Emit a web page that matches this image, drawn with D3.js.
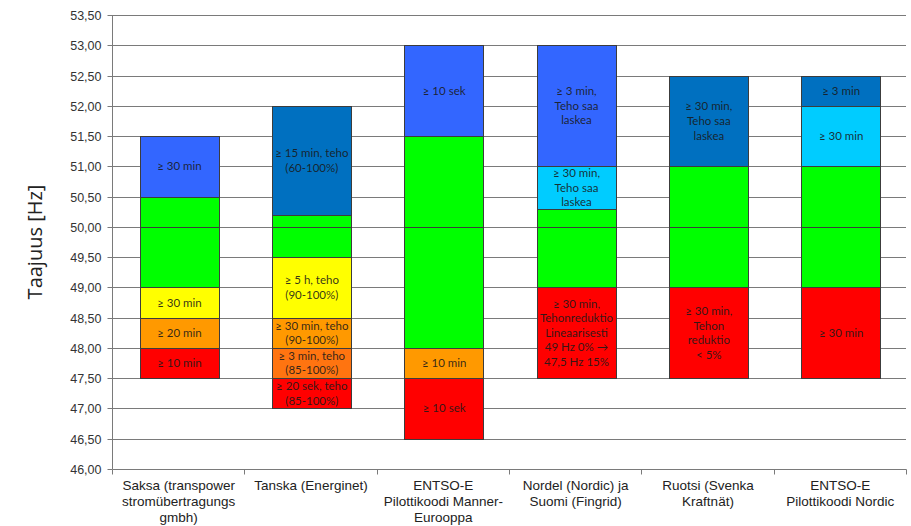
<!DOCTYPE html>
<html>
<head>
<meta charset="utf-8">
<script src="https://cdn.jsdelivr.net/npm/d3@7/dist/d3.min.js"></script>
<style>
  html, body { margin: 0; padding: 0; background: #fff; }
  svg { display: block; }
</style>
</head>
<body>
<svg id="chart" width="911" height="526"></svg>
<script>
// Frequency ranges (Hz) per grid code, each band: [from, to, band type, label lines]
const categories = ["saksa", "tanska", "entsoeMe", "nordel", "ruotsi", "entsoeNordic"];

const categoryLabels = [
  ["Saksa (transpower", "stromübertragungs", "gmbh)"],
  ["Tanska (Energinet)"],
  ["ENTSO-E", "Pilottikoodi Manner-", "Eurooppa"],
  ["Nordel (Nordic) ja", "Suomi (Fingrid)"],
  ["Ruotsi (Svenka", "Kraftnät)"],
  ["ENTSO-E", "Pilottikoodi Nordic"]
];

const saksa = [
  [47.5, 48.0, "red", ["≥ 10 min"]],
  [48.0, 48.5, "orange", ["≥ 20 min"]],
  [48.5, 49.0, "yellow", ["≥ 30 min"]],
  [49.0, 50.0, "green", []],
  [50.0, 50.5, "green", []],
  [50.5, 51.5, "blue", ["≥ 30 min"]]
];

const tanska = [
  [47.0, 47.5, "red", ["≥ 20 sek, teho", "(85-100%)"]],
  [47.5, 48.0, "darkOrange", ["≥ 3 min, teho", "(85-100%)"]],
  [48.0, 48.5, "orange", ["≥ 30 min, teho", "(90-100%)"]],
  [48.5, 49.5, "yellow", ["≥ 5 h, teho", "(90-100%)"]],
  [49.5, 50.0, "green", []],
  [50.0, 50.2, "green", []],
  [50.2, 52.0, "steelBlue", ["≥ 15 min, teho", "(60-100%)"]]
];

const entsoeMe = [
  [46.5, 47.5, "red", ["≥ 10 sek"]],
  [47.5, 48.0, "orange", ["≥ 10 min"]],
  [48.0, 50.0, "green", []],
  [50.0, 51.5, "green", []],
  [51.5, 53.0, "blue", ["≥ 10 sek"]]
];

const nordel = [
  [47.5, 49.0, "red", ["≥ 30 min,", "Tehonreduktio", "Lineaarisesti", "49 Hz 0% \u2192", "47,5 Hz 15%"]],
  [49.0, 50.0, "green", []],
  [50.0, 50.3, "green", []],
  [50.3, 51.0, "lightBlue", ["≥ 30 min,", "Teho saa", "laskea"]],
  [51.0, 53.0, "blue", ["≥ 3 min,", "Teho saa", "laskea"]]
];

const ruotsi = [
  [47.5, 49.0, "red", ["≥ 30 min,", "Tehon", "reduktio", "< 5%"]],
  [49.0, 50.0, "green", []],
  [50.0, 51.0, "green", []],
  [51.0, 52.5, "steelBlue", ["≥ 30 min,", "Teho saa", "laskea"]]
];

const entsoeNordic = [
  [47.5, 49.0, "red", ["≥ 30 min"]],
  [49.0, 50.0, "green", []],
  [50.0, 51.0, "green", []],
  [51.0, 52.0, "lightBlue", ["≥ 30 min"]],
  [52.0, 52.5, "steelBlue", ["≥ 3 min"]]
];

const yTicks = [46, 46.5, 47, 47.5, 48, 48.5, 49, 49.5, 50, 50.5, 51, 51.5, 52, 52.5, 53, 53.5];

const bandsByCategory = { saksa, tanska, entsoeMe, nordel, ruotsi, entsoeNordic };

const bandColors = {
  red: "#ff0000",
  darkOrange: "#ff7410",
  orange: "#ff9900",
  yellow: "#ffff00",
  green: "#00ff00",
  blue: "#3366ff",
  lightBlue: "#00ccff",
  steelBlue: "#0070c0"
};

const svg = d3.select("#chart");
const plotLeft = 112, plotRight = 906, plotTop = 15, plotBottom = 469;

const y = d3.scaleLinear().domain([46, 53.5]).range([plotBottom, plotTop]);
const x = d3.scaleBand().domain(categories).range([plotLeft, plotRight]).padding(0);
const barPad = 0.21, barFrac = 0.6;

const fmt = v => d3.format(".2f")(v).replace(".", ",");

// horizontal gridlines
svg.append("g")
  .selectAll("line")
  .data(yTicks.filter(t => t > 46))
  .join("line")
  .attr("x1", plotLeft).attr("x2", plotRight)
  .attr("y1", d => Math.round(y(d)) + 0.5).attr("y2", d => Math.round(y(d)) + 0.5)
  .attr("stroke", "#7a7a7a").attr("stroke-width", 1);

// y axis
const yAxis = d3.axisLeft(y).tickValues(yTicks).tickFormat(fmt).tickSize(5).tickPadding(6);
const gy = svg.append("g").attr("transform", `translate(${plotLeft + 0.5},0)`).call(yAxis);
gy.select(".domain").attr("stroke", "#7a7a7a").attr("d", `M0,${plotTop}V${plotBottom}`);
gy.selectAll(".tick").attr("transform", d => `translate(0,${Math.round(y(d)) + 0.5})`);
gy.selectAll(".tick line").attr("stroke", "#7a7a7a");
gy.selectAll(".tick text")
  .attr("fill", "#333")
  .style("font-family", "'Liberation Sans', Arial, sans-serif")
  .style("font-size", "12.5px");

// x axis with ticks at category boundaries
const gx = svg.append("g").attr("transform", `translate(0.5,${plotBottom + 0.5})`);
gx.append("line").attr("x1", plotLeft).attr("x2", plotRight).attr("stroke", "#7a7a7a");
gx.selectAll("line.tk")
  .data(categories.map(c => x(c)).concat([plotRight]))
  .join("line").attr("class", "tk")
  .attr("x1", d => Math.round(d)).attr("x2", d => Math.round(d))
  .attr("y1", 0).attr("y2", 5)
  .attr("stroke", "#7a7a7a");

gx.selectAll("text.cat")
  .data(categories)
  .join("text").attr("class", "cat")
  .attr("x", c => x(c) + x.bandwidth() / 2)
  .attr("text-anchor", "middle")
  .attr("fill", "#222")
  .style("font-family", "'Liberation Sans Narrow', 'Liberation Sans', Arial, sans-serif")
  .style("font-size", "13.5px")
  .each(function (c, i) {
    d3.select(this).selectAll("tspan")
      .data(categoryLabels[i])
      .join("tspan")
      .attr("x", x(c) + x.bandwidth() / 2)
      .attr("y", (d, j) => 20 + j * 16)
      .text(d => d);
  });

// y axis title
svg.append("text")
  .attr("transform", `translate(42,${(plotTop + plotBottom) / 2}) rotate(-90)`)
  .attr("text-anchor", "middle")
  .attr("fill", "#222")
  .style("font-family", "'Open Sans', sans-serif")
  .style("font-size", "20px")
  .text("Taajuus [Hz]");

// bars
const bw = x.bandwidth() * barFrac;
const bars = svg.append("g");
categories.forEach(c => {
  const bx = x(c) + x.bandwidth() * barPad;
  const g = bars.append("g");
  const bands = bandsByCategory[c];
  g.selectAll("rect")
    .data(bands)
    .join("rect")
    .attr("x", Math.round(bx) + 0.5)
    .attr("width", Math.round(bw))
    .attr("y", d => Math.round(y(d[1])) + 0.5)
    .attr("height", d => Math.round(y(d[0])) - Math.round(y(d[1])))
    .attr("fill", d => bandColors[d[2]])
    .attr("stroke", "#3c3c3c")
    .attr("stroke-width", 1);

  const lineH = 14.6;
  g.selectAll("text")
    .data(bands.filter(d => d[3].length))
    .join("text")
    .attr("text-anchor", "middle")
    .attr("fill", "#1a1a1a")
    .attr("fill-opacity", 0.9)
    .style("font-family", "Lato, 'Open Sans', sans-serif")
    .style("font-size", "11.5px")
    .each(function (d) {
      const cy = (y(d[0]) + y(d[1])) / 2;
      const n = d[3].length;
      d3.select(this).selectAll("tspan")
        .data(d[3])
        .join("tspan")
        .attr("x", bx + bw / 2)
        .attr("y", (t, j) => cy + (j - (n - 1) / 2) * lineH + 4)
        .text(t => t);
    });
});
</script>
</body>
</html>
